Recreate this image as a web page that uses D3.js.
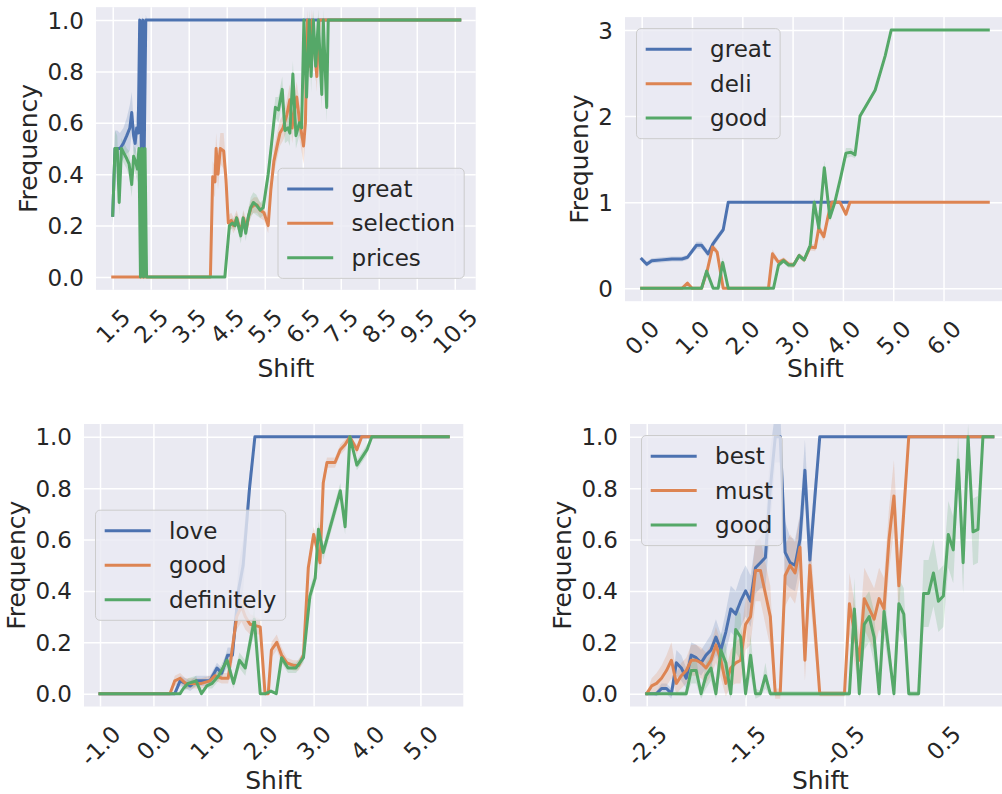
<!DOCTYPE html>
<html><head><meta charset="utf-8">
<script src="https://cdn.jsdelivr.net/npm/d3@7"></script>
<style>
body{margin:0;background:#fff}
svg{display:block}
</style>
</head><body>
<svg id="c" width="1002" height="794"></svg>
<script>
// ---------------- DATA ([x, y, ci half-width]) ----------------
// Panel 1
const p1Names = ["great", "selection", "prices"];
const p1XTicks = [1.5, 2.5, 3.5, 4.5, 5.5, 6.5, 7.5, 8.5, 9.5, 10.5];
const p1XLabels = ["1.5", "2.5", "3.5", "4.5", "5.5", "6.5", "7.5", "8.5", "9.5", "10.5"];
const p1YTicks = [0, 0.2, 0.4, 0.6, 0.8, 1.0];
const p1YLabels = ["0.0", "0.2", "0.4", "0.6", "0.8", "1.0"];
const p1Great = [[1.50,0.24,0.04],[1.56,0.50,0.07],[1.62,0.50,0.07],[1.69,0.50,0.06],[1.78,0.52,0.06],[1.87,0.55,0.07],[1.95,0.58,0.09],[2.00,0.64,0.08],[2.05,0.55,0.06],[2.09,0.52,0.05],[2.13,0.58,0.07],[2.17,0.56,0.06],[2.21,1.00,0.03],[2.25,0.50,0.03],[2.29,1.00,0.03],[2.33,0.50,0.03],[2.37,1.00,0.02],[2.40,1.00,0],[10.63,1.00,0]];
const p1Selection = [[1.50,0,0],[2.25,0,0],[4.07,0,0],[4.13,0.39,0.06],[4.19,0.37,0.06],[4.22,0.50,0.06],[4.27,0.40,0.06],[4.33,0.50,0.06],[4.42,0.49,0.07],[4.48,0.38,0.06],[4.54,0.21,0.03],[4.62,0.22,0.03],[4.68,0.20,0.03],[4.76,0.23,0.03],[4.82,0.20,0.03],[4.88,0.18,0.03],[4.94,0.23,0.03],[5.02,0.19,0.03],[5.08,0.24,0.03],[5.14,0.27,0.03],[5.22,0.28,0.03],[5.30,0.28,0.03],[5.38,0.26,0.03],[5.48,0.25,0.03],[5.59,0.20,0.03],[5.66,0.34,0.04],[5.74,0.45,0.05],[5.84,0.52,0.05],[5.90,0.56,0.05],[5.98,0.58,0.05],[6.08,0.63,0.06],[6.16,0.69,0.06],[6.22,0.58,0.06],[6.28,0.65,0.06],[6.34,0.70,0.06],[6.42,0.60,0.07],[6.48,0.55,0.07],[6.52,0.51,0.07],[6.57,0.60,0.07],[6.62,1.00,0.04],[6.68,0.82,0.06],[6.74,1.00,0.04],[6.80,0.90,0.05],[6.87,0.78,0.06],[6.93,1.00,0],[10.63,1.00,0]];
const p1Prices = [[1.50,0.24,0.04],[1.56,0.50,0.07],[1.62,0.50,0.05],[1.67,0.29,0.05],[1.73,0.50,0.04],[1.80,0.48,0.04],[1.87,0.46,0.04],[1.93,0.44,0.05],[2.00,0.36,0.05],[2.05,0.47,0.04],[2.10,0.45,0.05],[2.15,0.42,0.05],[2.19,0.50,0.04],[2.23,0.00,0.02],[2.27,0.50,0.03],[2.31,0.00,0.02],[2.35,0.50,0.03],[2.39,0.00,0],[4.45,0.00,0],[4.57,0.20,0.02],[4.65,0.21,0.02],[4.72,0.20,0.02],[4.76,0.23,0.02],[4.82,0.19,0.03],[4.87,0.16,0.03],[4.93,0.23,0.03],[5.00,0.17,0.03],[5.06,0.23,0.03],[5.13,0.27,0.04],[5.20,0.29,0.04],[5.28,0.28,0.04],[5.38,0.26,0.03],[5.46,0.27,0.03],[5.52,0.33,0.03],[5.59,0.40,0.03],[5.68,0.52,0.04],[5.78,0.66,0.04],[5.86,0.65,0.05],[5.96,0.73,0.05],[6.03,0.57,0.05],[6.11,0.58,0.05],[6.16,0.56,0.05],[6.24,0.79,0.05],[6.32,0.55,0.05],[6.41,0.60,0.05],[6.47,0.58,0.05],[6.53,1.00,0.04],[6.60,0.70,0.06],[6.67,1.00,0.04],[6.72,0.78,0.06],[6.78,1.00,0.04],[6.84,0.82,0.06],[6.91,1.00,0.04],[7.00,0.71,0.06],[7.04,1.00,0.04],[7.13,0.66,0.06],[7.17,1.00,0],[10.63,1.00,0]];

// Panel 2
const p2Names = ["great", "deli", "good"];
const p2XTicks = [0, 1, 2, 3, 4, 5, 6];
const p2XLabels = ["0.0", "1.0", "2.0", "3.0", "4.0", "5.0", "6.0"];
const p2YTicks = [0, 1, 2, 3];
const p2YLabels = ["0", "1", "2", "3"];
const p2Great = [[0,0.34,0.03],[0.1,0.28,0.03],[0.2,0.32,0.03],[0.4,0.33,0.03],[0.6,0.34,0.03],[0.8,0.34,0.03],[0.91,0.36,0.03],[1.09,0.50,0.04],[1.19,0.50,0.04],[1.32,0.40,0.04],[1.42,0.52,0.04],[1.52,0.60,0.04],[1.62,0.68,0.03],[1.72,1.00,0],[4.10,1.00,0]];
const p2Deli = [[0,0,0],[0.8,0,0],[0.91,0.06,0.02],[1.0,0,0],[1.19,0,0],[1.30,0.20,0.03],[1.41,0.48,0.04],[1.50,0.42,0.04],[1.62,0,0],[2.52,0,0],[2.60,0.40,0.05],[2.72,0.30,0.03],[2.82,0.33,0.03],[2.92,0.28,0.03],[3.02,0.27,0.03],[3.13,0.38,0.03],[3.23,0.33,0.03],[3.35,0.48,0.04],[3.45,0.47,0.04],[3.52,0.70,0.05],[3.62,0.60,0.05],[3.71,0.85,0.04],[3.78,1.00,0.02],[3.94,1.00,0.02],[4.06,0.86,0.03],[4.14,1.00,0],[6.89,1.00,0]];
const p2Good = [[0,0,0],[1.19,0,0],[1.29,0.20,0.04],[1.42,0,0],[1.52,0,0],[1.61,0.30,0.06],[1.72,0,0],[2.62,0,0],[2.72,0.27,0.03],[2.82,0.32,0.03],[2.92,0.27,0.03],[3.02,0.27,0.03],[3.13,0.38,0.03],[3.23,0.33,0.03],[3.35,0.50,0.04],[3.43,1.00,0.05],[3.52,0.70,0.05],[3.63,1.40,0.08],[3.74,0.82,0.05],[3.84,1.00,0.04],[3.96,1.30,0.05],[4.06,1.57,0.06],[4.16,1.58,0.05],[4.24,1.55,0.04],[4.34,2.00,0.03],[4.44,2.10,0.03],[4.64,2.30,0.03],[4.84,2.70,0.03],[4.96,3.00,0],[6.89,3.00,0]];

// Panel 3
const p3Names = ["love", "good", "definitely"];
const p3XTicks = [-1, 0, 1, 2, 3, 4, 5];
const p3XLabels = ["-1.0", "0.0", "1.0", "2.0", "3.0", "4.0", "5.0"];
const p3YTicks = [0, 0.2, 0.4, 0.6, 0.8, 1.0];
const p3YLabels = ["0.0", "0.2", "0.4", "0.6", "0.8", "1.0"];
const p3Love = [[-1,0,0],[0.40,0,0],[0.50,0.05,0.02],[0.60,0.04,0.02],[0.69,0.03,0.02],[0.80,0.05,0.02],[1.06,0.05,0.02],[1.19,0.10,0.02],[1.28,0.08,0.02],[1.39,0.15,0.03],[1.48,0.15,0.03],[1.59,0.40,0.09],[1.68,0.50,0.10],[1.80,0.80,0.06],[1.90,1.00,0],[5.52,1.00,0]];
const p3Good = [[-1,0,0],[0.31,0,0],[0.40,0.05,0.02],[0.50,0.06,0.02],[0.60,0.04,0.02],[0.69,0.04,0.02],[0.90,0.04,0.02],[1.06,0.05,0.02],[1.15,0.07,0.02],[1.28,0.06,0.02],[1.40,0.06,0.02],[1.56,0.30,0.05],[1.65,0.34,0.06],[1.72,0.30,0.05],[1.81,0.27,0.04],[2.00,0.26,0.03],[2.09,0,0],[2.15,0,0],[2.21,0.17,0.03],[2.31,0.20,0.03],[2.40,0.15,0.03],[2.50,0.12,0.02],[2.62,0.11,0.02],[2.72,0.11,0.02],[2.81,0.15,0.02],[2.90,0.49,0.03],[3.00,0.62,0.03],[3.06,0.57,0.03],[3.12,0.51,0.03],[3.18,0.82,0.03],[3.25,0.90,0.02],[3.40,0.90,0.02],[3.50,0.95,0.02],[3.59,0.97,0.02],[3.68,1.00,0],[3.81,0.95,0.02],[3.90,1.00,0],[5.52,1.00,0]];
const p3Definitely = [[-1,0,0],[0.50,0,0],[0.56,0.02,0.01],[0.65,0.04,0.02],[0.80,0.05,0.02],[0.90,0,0],[1.00,0.03,0.01],[1.10,0.04,0.02],[1.22,0.07,0.02],[1.38,0.13,0.03],[1.50,0.04,0.02],[1.61,0.13,0.03],[1.72,0.10,0.03],[1.89,0.29,0.05],[2.00,0,0],[2.10,0,0],[2.20,0.01,0],[2.30,0,0],[2.40,0.14,0.02],[2.52,0.10,0.02],[2.67,0.10,0.02],[2.81,0.14,0.02],[2.93,0.38,0.03],[3.03,0.45,0.03],[3.09,0.64,0.03],[3.18,0.55,0.03],[3.50,0.79,0.03],[3.59,0.65,0.03],[3.68,1.00,0],[3.81,0.89,0.02],[4.00,0.95,0.02],[4.09,1.00,0],[5.52,1.00,0]];

// Panel 4
const p4Names = ["best", "must", "good"];
const p4XTicks = [-2.5, -1.5, -0.5, 0.5];
const p4XLabels = ["-2.5", "-1.5", "-0.5", "0.5"];
const p4YTicks = [0, 0.2, 0.4, 0.6, 0.8, 1.0];
const p4YLabels = ["0.0", "0.2", "0.4", "0.6", "0.8", "1.0"];
const p4Best = [[-2.50,0,0],[-2.45,0,0],[-2.40,0,0.01],[-2.35,0.02,0.02],[-2.30,0.02,0.02],[-2.25,0.00,0.02],[-2.20,0.12,0.05],[-2.15,0.10,0.05],[-2.10,0.06,0.04],[-2.05,0.15,0.05],[-2.00,0.14,0.05],[-1.95,0.12,0.05],[-1.90,0.15,0.05],[-1.85,0.17,0.06],[-1.80,0.22,0.07],[-1.75,0.17,0.06],[-1.70,0.24,0.08],[-1.65,0.33,0.09],[-1.60,0.31,0.09],[-1.55,0.36,0.10],[-1.50,0.40,0.10],[-1.45,0.36,0.10],[-1.40,0.49,0.10],[-1.35,0.51,0.10],[-1.30,0.53,0.12],[-1.25,0.80,0.15],[-1.20,1.00,0.10],[-1.15,1.00,0.10],[-1.10,0.55,0.12],[-1.05,0.51,0.10],[-1.00,0.50,0.10],[-0.95,0.60,0.10],[-0.90,0.87,0.12],[-0.85,0.52,0.10],[-0.80,0.76,0.08],[-0.75,1.00,0],[1.00,1.00,0]];
const p4Must = [[-2.50,0,0],[-2.45,0.03,0.03],[-2.40,0.04,0.04],[-2.35,0.06,0.05],[-2.30,0.09,0.06],[-2.25,0.13,0.07],[-2.20,0.04,0.04],[-2.15,0.07,0.05],[-2.10,0.09,0.05],[-2.05,0.13,0.06],[-2.00,0.13,0.06],[-1.95,0.12,0.06],[-1.90,0.10,0.06],[-1.85,0.13,0.06],[-1.80,0.19,0.07],[-1.75,0.13,0.07],[-1.70,0.04,0.05],[-1.65,0.10,0.07],[-1.60,0.12,0.08],[-1.55,0.13,0.09],[-1.50,0.27,0.10],[-1.45,0.30,0.11],[-1.40,0.48,0.12],[-1.35,0.48,0.12],[-1.30,0.39,0.12],[-1.25,0.30,0.12],[-1.20,0.00,0.02],[-1.15,0.00,0.02],[-1.10,0.46,0.12],[-1.05,0.50,0.12],[-1.00,0.47,0.12],[-0.95,0.57,0.12],[-0.90,0.13,0.08],[-0.85,0.50,0.12],[-0.80,0.26,0.10],[-0.75,0.00,0.01],[-0.50,0.00,0.01],[-0.45,0.35,0.12],[-0.40,0.24,0.12],[-0.35,0.13,0.10],[-0.30,0.37,0.12],[-0.25,0.33,0.12],[-0.20,0.29,0.12],[-0.15,0.37,0.12],[-0.10,0.33,0.12],[-0.05,0.60,0.12],[0.00,0.77,0.14],[0.05,0.42,0.12],[0.10,0.71,0.08],[0.15,1.00,0],[1.00,1.00,0]];
const p4Good = [[-2.50,0,0],[-2.10,0,0.01],[-2.05,0.09,0.05],[-2.00,0.09,0.05],[-1.95,0,0.02],[-1.90,0.07,0.05],[-1.85,0.10,0.05],[-1.80,0,0.02],[-1.75,0.17,0.07],[-1.70,0.12,0.07],[-1.65,0,0.02],[-1.60,0.25,0.09],[-1.55,0.22,0.09],[-1.50,0,0.02],[-1.45,0.15,0.08],[-1.40,0,0.02],[-1.35,0,0.01],[-1.30,0.07,0.05],[-1.25,0,0.01],[-0.45,0,0.01],[-0.40,0.33,0.12],[-0.35,0,0.02],[-0.30,0.27,0.10],[-0.25,0.30,0.10],[-0.20,0.22,0.10],[-0.15,0,0.02],[-0.10,0.32,0.10],[-0.05,0.16,0.06],[0.00,0,0.02],[0.05,0.35,0.10],[0.10,0.31,0.10],[0.15,0,0.01],[0.25,0,0.01],[0.30,0.39,0.13],[0.35,0.39,0.13],[0.40,0.47,0.13],[0.45,0.36,0.12],[0.50,0.38,0.12],[0.55,0.62,0.13],[0.60,0.56,0.13],[0.65,0.91,0.10],[0.70,0.51,0.12],[0.75,1.00,0.05],[0.80,0.63,0.13],[0.85,0.64,0.13],[0.90,1.00,0],[1.00,1.00,0]];

// ---------------- LAYOUT / STYLE ----------------
const COLORS = ["#4C72B0", "#DD8452", "#55A868"];
const FONT = "'DejaVu Sans', sans-serif";
const TXT = "#262626";
const TICK_FS = 23, LEG_FS = 23, LAB_FS = 25;

const panels = [
  {left:96, right:475.7, top:7.15, bottom:289.85, xDom:[1.06,11.05], yDom:[-0.05,1.05],
   xTicks:p1XTicks, xLabels:p1XLabels, yTicks:p1YTicks, yLabels:p1YLabels,
   names:p1Names, series:[p1Great,p1Selection,p1Prices], loc:"lower right", xlabY:377.3},
  {left:625, right:1005.7, top:17.1, bottom:301.2, xDom:[-0.332,7.236], yDom:[-0.15,3.15],
   xTicks:p2XTicks, xLabels:p2XLabels, yTicks:p2YTicks, yLabels:p2YLabels,
   names:p2Names, series:[p2Great,p2Deli,p2Good], loc:"upper left", xlabY:377.3},
  {left:84, right:463.3, top:424, bottom:706.5, xDom:[-1.3,5.803], yDom:[-0.05,1.05],
   xTicks:p3XTicks, xLabels:p3XLabels, yTicks:p3YTicks, yLabels:p3YLabels,
   names:p3Names, series:[p3Love,p3Good,p3Definitely], loc:"center left", xlabY:789},
  {left:630, right:1010.6, top:424, bottom:706.5, xDom:[-2.669,1.18], yDom:[-0.05,1.05],
   xTicks:p4XTicks, xLabels:p4XLabels, yTicks:p4YTicks, yLabels:p4YLabels,
   names:p4Names, series:[p4Best,p4Must,p4Good], loc:"upper left", xlabY:789}
];

const svg = d3.select("#c");

panels.forEach((p, pi) => {
  const W = p.right - p.left, H = p.bottom - p.top;
  const x = d3.scaleLinear().domain(p.xDom).range([p.left, p.right]);
  const y = d3.scaleLinear().domain(p.yDom).range([p.bottom, p.top]);
  const g = svg.append("g");

  g.append("rect").attr("x", p.left).attr("y", p.top).attr("width", W).attr("height", H).attr("fill", "#EAEAF2");

  // y axis (grid + labels)
  const ya = g.append("g").attr("transform", `translate(${p.left},0)`)
    .call(d3.axisLeft(y).tickValues(p.yTicks).tickFormat((d, i) => p.yLabels[i]).tickSize(-W).tickPadding(12));
  ya.select(".domain").remove();
  ya.selectAll("line").attr("stroke", "#fff").attr("stroke-width", 1.5);
  ya.selectAll("text").attr("fill", TXT).attr("font-family", FONT).attr("font-size", TICK_FS).attr("dy", "0.35em");
  let maxW = 0;
  ya.selectAll("text").each(function(){ maxW = Math.max(maxW, this.getComputedTextLength()); });

  // x axis (grid + rotated labels)
  const xa = g.append("g").attr("transform", `translate(0,${p.bottom})`)
    .call(d3.axisBottom(x).tickValues(p.xTicks).tickFormat((d, i) => p.xLabels[i]).tickSize(-H).tickPadding(0));
  xa.select(".domain").remove();
  xa.selectAll("line").attr("stroke", "#fff").attr("stroke-width", 1.5);
  const asc = 0.928 * TICK_FS, desc = 0.236 * TICK_FS, s = Math.SQRT1_2;
  xa.selectAll("text").attr("fill", TXT).attr("font-family", FONT).attr("font-size", TICK_FS)
    .attr("y", null).attr("dy", null).attr("text-anchor", "end")
    .each(function(){
      const w = this.getComputedTextLength();
      const px = s * (w + asc - desc) / 2;
      const py = 14 + s * asc;
      d3.select(this).attr("transform", `translate(${px},${py}) rotate(-45)`);
    });

  // clip
  const cid = "clip" + pi;
  g.append("clipPath").attr("id", cid).append("rect")
    .attr("x", p.left).attr("y", p.top).attr("width", W).attr("height", H);
  const plot = g.append("g").attr("clip-path", `url(#${cid})`);

  const area = d3.area().x(d => x(d[0])).y0(d => y(d[1] - d[2])).y1(d => y(d[1] + d[2]));
  const line = d3.line().x(d => x(d[0])).y(d => y(d[1]));
  p.series.forEach((sr, si) => {
    plot.append("path").attr("d", area(sr)).attr("fill", COLORS[si]).attr("fill-opacity", 0.2).attr("stroke", "none");
  });
  p.series.forEach((sr, si) => {
    plot.append("path").attr("d", line(sr)).attr("fill", "none").attr("stroke", COLORS[si])
      .attr("stroke-width", 3).attr("stroke-linejoin", "round").attr("stroke-linecap", "square");
  });

  // legend
  const bp = 0.4 * LEG_FS, hl = 2 * LEG_FS, htp = 0.8 * LEG_FS, rowH = 22.9, ls = 0.5 * LEG_FS, bap = 0.5 * LEG_FS;
  const lg = g.append("g");
  const frame = lg.append("rect");
  const texts = p.names.map((n, i) => lg.append("text").text(n).attr("font-family", FONT).attr("font-size", LEG_FS).attr("fill", TXT));
  let tw = 0; texts.forEach(t => tw = Math.max(tw, t.node().getComputedTextLength()));
  const LW = 2 * bp + hl + htp + tw, LH = 2 * bp + 3 * rowH + 2 * ls;
  let lx, ly;
  if (p.loc === "lower right") { lx = p.right - bap - LW; ly = p.bottom - bap - LH; }
  else if (p.loc === "upper left") { lx = p.left + bap; ly = p.top + bap; }
  else { lx = p.left + bap; ly = (p.top + p.bottom) / 2 - LH / 2; }
  frame.attr("x", lx).attr("y", ly).attr("width", LW).attr("height", LH).attr("rx", 4.5)
    .attr("fill", "#EAEAF2").attr("fill-opacity", 0.8).attr("stroke", "#CCCCCC").attr("stroke-width", 1);
  p.names.forEach((n, i) => {
    const cy = ly + bp + rowH / 2 + i * (rowH + ls);
    lg.append("line").attr("x1", lx + bp + 1.5).attr("x2", lx + bp + hl - 1.5).attr("y1", cy).attr("y2", cy)
      .attr("stroke", COLORS[i]).attr("stroke-width", 3).attr("stroke-linecap", "square");
    texts[i].attr("x", lx + bp + hl + htp).attr("y", cy).attr("dy", "0.35em");
  });

  // axis labels
  g.append("text").text("Shift").attr("x", (p.left + p.right) / 2).attr("y", p.xlabY)
    .attr("text-anchor", "middle").attr("font-family", FONT).attr("font-size", LAB_FS).attr("fill", TXT);
  const ylx = p.left - 12 - maxW - 7 - LAB_FS * 0.5;
  g.append("text").text("Frequency")
    .attr("transform", `translate(${ylx},${(p.top + p.bottom) / 2}) rotate(-90)`)
    .attr("text-anchor", "middle").attr("dy", "0.35em").attr("font-family", FONT).attr("font-size", LAB_FS).attr("fill", TXT);
});
</script>
</body></html>
